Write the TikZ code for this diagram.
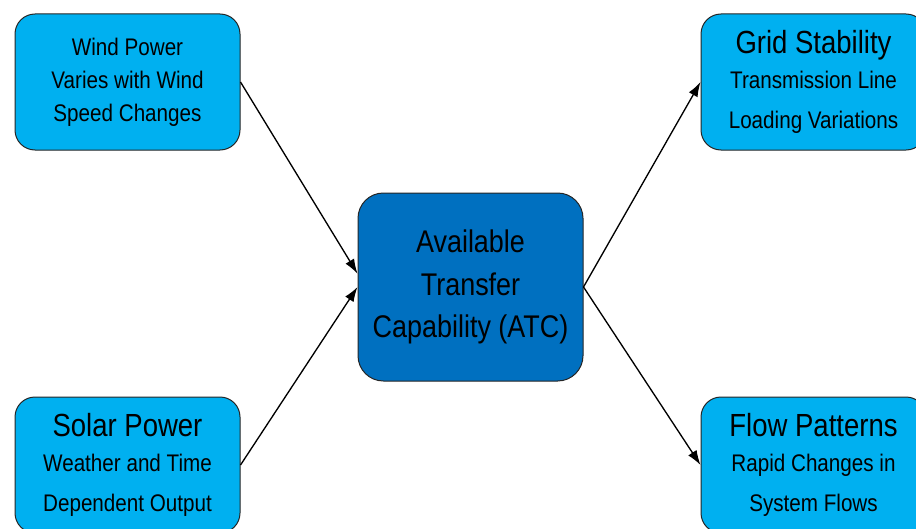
\documentclass[tikz,border=0pt]{standalone}
\usepackage{fontspec}
\setmainfont{Liberation Sans}[FakeStretch=0.86]
\usetikzlibrary{arrows.meta}
\definecolor{srcblue}{HTML}{00B0F0}
\definecolor{atcblue}{HTML}{0070C0}
\tikzset{
  box/.style={draw=black!85, line width=0.75pt, rounded corners=15pt, fill=srcblue,
    minimum width=168.75pt, minimum height=102pt, align=center,
    font=\fontsize{18}{30}\selectfont},
  hub/.style={box, fill=atcblue, minimum height=141pt, rounded corners=19pt,
    font=\fontsize{23.5}{32}\selectfont},
  arr/.style={-{Latex[length=11pt, width=7.5pt]}, line width=1pt},
}
\newcommand{\headline}[1]{{\fontsize{24}{26}\selectfont #1}}

\begin{document}
\begin{tikzpicture}[x=0.75pt, y=-0.75pt]
    \useasboundingbox (0,0) rectangle (916,528);
    % sources on the left, effects on the right
    \node[hub] (atc) at (470.5,287) {Available\\Transfer\\Capability (ATC)};
    \node[box, font=\fontsize{18}{24.75}\selectfont] (wind) at (127.5,82)
      {Wind Power\\Varies with Wind\\Speed Changes};
    \node[box] (solar) at (127.5,465)
      {\headline{Solar Power}\\[-4pt]Weather and Time\\Dependent Output};
    \node[box] (grid) at (813.5,82)
      {\headline{Grid Stability}\\[-4pt]Transmission Line\\Loading Variations};
    \node[box] (flow) at (813.5,465)
      {\headline{Flow Patterns}\\[-4pt]Rapid Changes in\\System Flows};
    \draw[arr] (wind.east) -- ([yshift=10pt]atc.west);
    \draw[arr] (solar.east) -- (atc.west);
    \draw[arr] (atc.east) -- (grid.west);
    \draw[arr] (atc.east) -- (flow.west);
\end{tikzpicture}
\end{document}
